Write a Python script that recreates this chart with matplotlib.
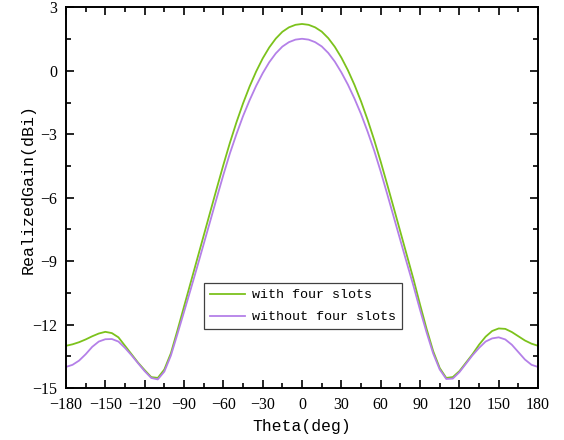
import matplotlib
matplotlib.use("Agg")
import matplotlib.pyplot as plt
from matplotlib.ticker import MultipleLocator

# Realized gain patterns, theta sampled every 5 degrees
theta = list(range(-180, 181, 5))

gain_with_slots = [
    -13.00, -12.93, -12.83, -12.70, -12.55, -12.42, -12.34, -12.40, -12.60, -13.00,
    -13.40, -13.80, -14.15, -14.48, -14.52, -14.12, -13.35, -12.27, -11.15, -10.03,
    -8.91, -7.79, -6.67, -5.55, -4.45, -3.40, -2.43, -1.54, -0.74, -0.03,
    0.59, 1.11, 1.53, 1.85, 2.06, 2.18, 2.22, 2.18, 2.06, 1.86,
    1.55, 1.14, 0.63, 0.03, -0.66, -1.44, -2.31, -3.26, -4.29, -5.38,
    -6.49, -7.61, -8.73, -9.85, -11.05, -12.20, -13.25, -14.05, -14.52, -14.48,
    -14.20, -13.80, -13.40, -12.95, -12.57, -12.30, -12.18, -12.20, -12.35, -12.55,
    -12.75, -12.90, -13.00,
]

gain_without_slots = [
    -14.00, -13.90, -13.70, -13.40, -13.05, -12.80, -12.69, -12.68, -12.80, -13.10,
    -13.45, -13.83, -14.20, -14.52, -14.59, -14.22, -13.46, -12.44, -11.40, -10.35,
    -9.28, -8.19, -7.10, -6.00, -4.92, -3.90, -2.99, -2.14, -1.39, -0.71,
    -0.11, 0.41, 0.83, 1.15, 1.36, 1.48, 1.52, 1.48, 1.36, 1.16,
    0.85, 0.44, -0.07, -0.65, -1.31, -2.04, -2.87, -3.76, -4.76, -5.83,
    -6.92, -8.01, -9.10, -10.17, -11.30, -12.37, -13.36, -14.12, -14.57, -14.55,
    -14.25, -13.85, -13.45, -13.10, -12.80, -12.65, -12.60, -12.70, -12.95, -13.30,
    -13.65, -13.90, -14.00,
]

series_labels = ["with four slots", "without four slots"]
series_colors = ["#7CC21C", "#B480E8"]

x_ticks = list(range(-180, 181, 30))
y_ticks = list(range(-15, 4, 3))

label_font = ["Liberation Mono", "DejaVu Sans Mono"]
tick_font = ["Liberation Serif", "DejaVu Serif"]

fig = plt.figure(figsize=(5.64, 4.40), dpi=100)
ax = fig.add_axes([0.117, 0.118, 0.837, 0.865])

ax.plot(theta, gain_with_slots, color=series_colors[0], lw=1.3, label=series_labels[0])
ax.plot(theta, gain_without_slots, color=series_colors[1], lw=1.3, label=series_labels[1])

ax.set_xlim(-180, 180)
ax.set_ylim(-15, 3)
ax.set_xticks(x_ticks)
ax.set_yticks(y_ticks)
ax.xaxis.set_minor_locator(MultipleLocator(15))
ax.yaxis.set_minor_locator(MultipleLocator(1.5))

for s in ax.spines.values():
    s.set_linewidth(1.4)
    s.set_color("black")

ax.tick_params(which="both", direction="in", top=True, right=True, width=1.2, color="black")
ax.tick_params(which="major", length=6, pad=6.5)
ax.tick_params(which="minor", length=3.5)
for lab in ax.get_xticklabels() + ax.get_yticklabels():
    lab.set_fontfamily(tick_font)
    lab.set_fontsize(11.5)

ax.set_xlabel("Theta(deg)", fontsize=11.8, family=label_font, labelpad=4)
ax.set_ylabel("RealizedGain(dBi)", fontsize=12, family=label_font)
ax.yaxis.set_label_coords(-0.064, 0.523)

leg = ax.legend(loc="upper left", bbox_to_anchor=(0.292, 0.276), borderaxespad=0,
                prop={"family": label_font, "size": 9.6}, frameon=True, fancybox=False,
                framealpha=1, edgecolor="#404040", handlelength=2.65, handletextpad=0.55,
                labelspacing=0.72, borderpad=0.45)
leg.get_frame().set_linewidth(0.9)

fig.savefig("out.png", dpi=100)
